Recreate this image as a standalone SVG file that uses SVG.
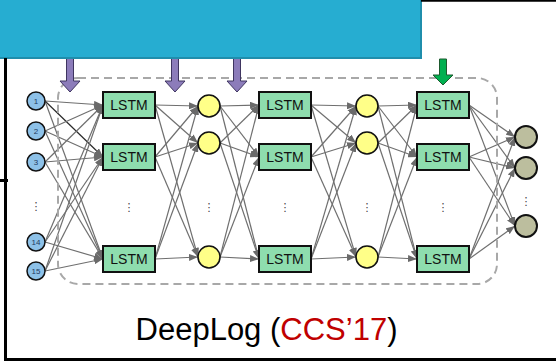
<svg xmlns="http://www.w3.org/2000/svg" width="556" height="361" viewBox="0 0 556 361">
<style>
.c{stroke:#6f6f6f;stroke-width:1.2;fill:none;marker-end:url(#ah)}
.dk{stroke:#2a2a2a}
.in circle{fill:#8DC1E8;stroke:#111;stroke-width:1.5}
.in text{font-family:"Liberation Sans",Arial,sans-serif;font-size:8px;fill:#1F3A5F;text-anchor:middle}
.ls rect{fill:#8EDDAE;stroke:#111;stroke-width:2}
.ls text{font-family:"Liberation Sans",Arial,sans-serif;font-size:14px;fill:#111;text-anchor:middle}
.ye circle{fill:#FFFF88;stroke:#111;stroke-width:1.6}
.out circle{fill:#BCBE9E;stroke:#111;stroke-width:2}
.dots{font-family:"DejaVu Sans",sans-serif;font-size:11px;fill:#444;text-anchor:middle}
.pa{fill:#8C7CBA;stroke:#3F3560;stroke-width:1}
.ga{fill:#00B050;stroke:#1D5A2E;stroke-width:1}
</style>
<defs>
<marker id="ah" markerUnits="userSpaceOnUse" markerWidth="9" markerHeight="7" refX="9" refY="3.5" orient="auto">
<path d="M0,0 L9,3.5 L0,7 z" fill="#6a6a6a"/>
</marker>
</defs>
<rect width="556" height="361" fill="#fff"/>

<g id="connectors">
<line class="c" x1="45" y1="101" x2="103" y2="105"/>
<line class="c dk" x1="45" y1="101" x2="103" y2="157"/>
<line class="c" x1="45" y1="101" x2="103" y2="259"/>
<line class="c" x1="45" y1="131" x2="103" y2="105"/>
<line class="c" x1="45" y1="131" x2="103" y2="157"/>
<line class="c" x1="45" y1="131" x2="103" y2="259"/>
<line class="c" x1="45" y1="162" x2="103" y2="105"/>
<line class="c" x1="45" y1="162" x2="103" y2="157"/>
<line class="c" x1="45" y1="162" x2="103" y2="259"/>
<line class="c" x1="45" y1="242" x2="103" y2="105"/>
<line class="c" x1="45" y1="242" x2="103" y2="157"/>
<line class="c" x1="45" y1="242" x2="103" y2="259"/>
<line class="c" x1="45" y1="271" x2="103" y2="105"/>
<line class="c" x1="45" y1="271" x2="103" y2="157"/>
<line class="c" x1="45" y1="271" x2="103" y2="259"/>
<line class="c" x1="155" y1="105" x2="198" y2="106"/>
<line class="c" x1="155" y1="105" x2="198" y2="143"/>
<line class="c" x1="155" y1="105" x2="198" y2="257"/>
<line class="c" x1="155" y1="157" x2="198" y2="106"/>
<line class="c" x1="155" y1="157" x2="198" y2="143"/>
<line class="c" x1="155" y1="157" x2="198" y2="257"/>
<line class="c" x1="155" y1="259" x2="198" y2="106"/>
<line class="c" x1="155" y1="259" x2="198" y2="143"/>
<line class="c" x1="155" y1="259" x2="198" y2="257"/>
<line class="c" x1="220" y1="106" x2="259" y2="105"/>
<line class="c" x1="220" y1="106" x2="259" y2="157"/>
<line class="c" x1="220" y1="106" x2="259" y2="259"/>
<line class="c" x1="220" y1="143" x2="259" y2="105"/>
<line class="c" x1="220" y1="143" x2="259" y2="157"/>
<line class="c" x1="220" y1="143" x2="259" y2="259"/>
<line class="c" x1="220" y1="257" x2="259" y2="105"/>
<line class="c" x1="220" y1="257" x2="259" y2="157"/>
<line class="c" x1="220" y1="257" x2="259" y2="259"/>
<line class="c" x1="311" y1="105" x2="356" y2="106"/>
<line class="c" x1="311" y1="105" x2="356" y2="143"/>
<line class="c" x1="311" y1="105" x2="356" y2="257"/>
<line class="c" x1="311" y1="157" x2="356" y2="106"/>
<line class="c" x1="311" y1="157" x2="356" y2="143"/>
<line class="c" x1="311" y1="157" x2="356" y2="257"/>
<line class="c" x1="311" y1="259" x2="356" y2="106"/>
<line class="c" x1="311" y1="259" x2="356" y2="143"/>
<line class="c" x1="311" y1="259" x2="356" y2="257"/>
<line class="c" x1="378" y1="106" x2="417" y2="105"/>
<line class="c" x1="378" y1="106" x2="417" y2="157"/>
<line class="c" x1="378" y1="106" x2="417" y2="259"/>
<line class="c" x1="378" y1="143" x2="417" y2="105"/>
<line class="c" x1="378" y1="143" x2="417" y2="157"/>
<line class="c" x1="378" y1="143" x2="417" y2="259"/>
<line class="c" x1="378" y1="257" x2="417" y2="105"/>
<line class="c" x1="378" y1="257" x2="417" y2="157"/>
<line class="c" x1="378" y1="257" x2="417" y2="259"/>
<line class="c" x1="469" y1="105" x2="515" y2="137"/>
<line class="c" x1="469" y1="105" x2="515" y2="168"/>
<line class="c" x1="469" y1="105" x2="515" y2="226"/>
<line class="c" x1="469" y1="157" x2="515" y2="137"/>
<line class="c" x1="469" y1="157" x2="515" y2="168"/>
<line class="c" x1="469" y1="157" x2="515" y2="226"/>
<line class="c" x1="469" y1="259" x2="515" y2="137"/>
<line class="c" x1="469" y1="259" x2="515" y2="168"/>
<line class="c" x1="469" y1="259" x2="515" y2="226"/>
</g>

<rect id="group-box" x="58" y="78" width="439" height="206" rx="20" fill="none" stroke="#A8A8A8" stroke-width="2" stroke-dasharray="8 5"/>

<g id="input-arrows">
<path class="pa" d="M66.5,50 L73.5,50 L73.5,81 L80,81 L70,92 L60,81 L66.5,81 z"/>
<path class="pa" d="M171.5,50 L178.5,50 L178.5,81 L185,81 L175,92 L165,81 L171.5,81 z"/>
<path class="pa" d="M233.5,50 L240.5,50 L240.5,81 L247,81 L237,92 L227,81 L233.5,81 z"/>
<path class="ga" d="M439.5,59 L446.5,59 L446.5,75 L453,75 L443,85 L433,75 L439.5,75 z"/>
</g>

<g id="in1" class="in"><circle cx="36" cy="101" r="9"/><text x="36" y="104">1</text></g>
<g id="in2" class="in"><circle cx="36" cy="131" r="9"/><text x="36" y="134">2</text></g>
<g id="in3" class="in"><circle cx="36" cy="162" r="9"/><text x="36" y="165">3</text></g>
<g id="in14" class="in"><circle cx="36" cy="242" r="9"/><text x="36" y="245">14</text></g>
<g id="in15" class="in"><circle cx="36" cy="271" r="9"/><text x="36" y="274">15</text></g>

<g id="lstm1a" class="ls"><rect x="103" y="92" width="52" height="26"/><text x="129" y="110">LSTM</text></g>
<g id="lstm1b" class="ls"><rect x="103" y="144" width="52" height="26"/><text x="129" y="162">LSTM</text></g>
<g id="lstm1c" class="ls"><rect x="103" y="246" width="52" height="26"/><text x="129" y="264">LSTM</text></g>

<g id="y1a" class="ye"><circle cx="209" cy="106" r="11"/></g>
<g id="y1b" class="ye"><circle cx="209" cy="143" r="11"/></g>
<g id="y1c" class="ye"><circle cx="209" cy="257" r="11"/></g>

<g id="lstm2a" class="ls"><rect x="259" y="92" width="52" height="26"/><text x="285" y="110">LSTM</text></g>
<g id="lstm2b" class="ls"><rect x="259" y="144" width="52" height="26"/><text x="285" y="162">LSTM</text></g>
<g id="lstm2c" class="ls"><rect x="259" y="246" width="52" height="26"/><text x="285" y="264">LSTM</text></g>

<g id="y2a" class="ye"><circle cx="367" cy="106" r="11"/></g>
<g id="y2b" class="ye"><circle cx="367" cy="143" r="11"/></g>
<g id="y2c" class="ye"><circle cx="367" cy="257" r="11"/></g>

<g id="lstm3a" class="ls"><rect x="417" y="92" width="52" height="26"/><text x="443" y="110">LSTM</text></g>
<g id="lstm3b" class="ls"><rect x="417" y="144" width="52" height="26"/><text x="443" y="162">LSTM</text></g>
<g id="lstm3c" class="ls"><rect x="417" y="246" width="52" height="26"/><text x="443" y="264">LSTM</text></g>

<g id="o1" class="out"><circle cx="526" cy="137" r="11"/></g>
<g id="o2" class="out"><circle cx="526" cy="168" r="11"/></g>
<g id="o3" class="out"><circle cx="526" cy="226" r="11"/></g>

<g id="ellipses">
<text class="dots" x="36" y="210">⋮</text>
<text class="dots" x="129" y="211">⋮</text>
<text class="dots" x="209" y="211">⋮</text>
<text class="dots" x="285" y="211">⋮</text>
<text class="dots" x="367" y="211">⋮</text>
<text class="dots" x="443" y="211">⋮</text>
<text class="dots" x="526" y="205">⋮</text>
</g>

<rect id="banner" x="-2" y="-2" width="423" height="60" fill="#26ADD1" stroke="#1F8EAC" stroke-width="2"/>

<g id="frame" stroke="#000" fill="none">
<line x1="421" y1="0.8" x2="556" y2="0.8" stroke-width="2"/>
<line x1="5.5" y1="58" x2="5.5" y2="361" stroke-width="3"/>
<line x1="4" y1="359.5" x2="556" y2="359.5" stroke-width="3"/>
<line x1="0" y1="180.5" x2="8" y2="180.5" stroke-width="3"/>
</g>

<text id="caption" x="266.5" y="340" font-family="'Liberation Sans',Arial,sans-serif" font-size="31" text-anchor="middle" fill="#000">DeepLog (<tspan fill="#C00000">CCS’17</tspan>)</text>
</svg>
